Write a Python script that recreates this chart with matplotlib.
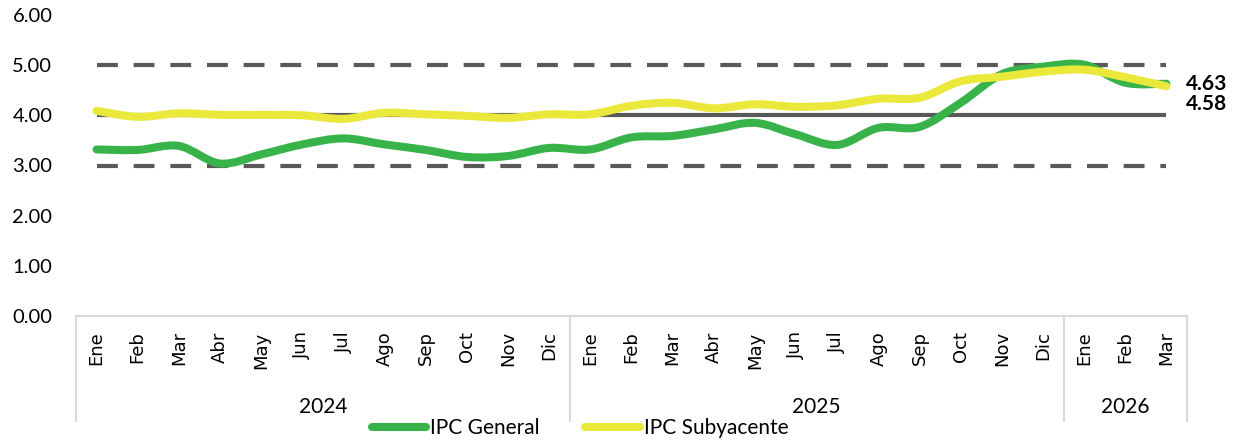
import numpy as np
import matplotlib
matplotlib.use("Agg")
from matplotlib import pyplot as plt
from matplotlib.path import Path
from matplotlib.patches import PathPatch
from matplotlib.lines import Line2D
from matplotlib import transforms

# data
months = ["Ene", "Feb", "Mar", "Abr", "May", "Jun", "Jul", "Ago", "Sep", "Oct", "Nov", "Dic",
          "Ene", "Feb", "Mar", "Abr", "May", "Jun", "Jul", "Ago", "Sep", "Oct", "Nov", "Dic",
          "Ene", "Feb", "Mar"]
years = ["2024", "2025", "2026"]
year_len = [12, 12, 3]

ipc_general = [3.32, 3.31, 3.39, 3.04, 3.22, 3.42, 3.54, 3.42, 3.31, 3.17, 3.19, 3.35,
               3.32, 3.56, 3.59, 3.72, 3.85, 3.62, 3.41, 3.75, 3.77, 4.25, 4.82, 4.97,
               5.01, 4.65, 4.63]
ipc_sub = [4.09, 3.97, 4.04, 4.01, 4.01, 4.00, 3.93, 4.05, 4.02, 3.99, 3.95, 4.02,
           4.02, 4.19, 4.25, 4.14, 4.22, 4.17, 4.20, 4.33, 4.35, 4.68, 4.77, 4.87,
           4.91, 4.76, 4.58]

target = 4.0
band = [3.0, 5.0]

green = "#37b34a"
yellow = "#ebe83c"
gray = "#595959"
box = "#d9d9d9"

fig = plt.figure(figsize=(12.34, 4.43), dpi=100)
ax = fig.add_axes([76 / 1234, 1 - 316 / 443, (1187 - 76) / 1234, (316 - 15) / 443])

x = np.arange(len(months))
ax.set_xlim(-0.5, len(months) - 0.5)
ax.set_ylim(0, 6)


def smooth_path(xs, ys):
    # catmull-rom style bezier, like excel's smoothed line
    pts = np.column_stack([xs, ys]).astype(float)
    verts = [pts[0]]
    codes = [Path.MOVETO]
    n = len(pts)
    for i in range(n - 1):
        p0 = pts[i - 1] if i > 0 else pts[i]
        p1 = pts[i]
        p2 = pts[i + 1]
        p3 = pts[i + 2] if i + 2 < n else pts[i + 1]
        c1 = p1 + (p2 - p0) / 6.0
        c2 = p2 - (p3 - p1) / 6.0
        verts += [c1, c2, p2]
        codes += [Path.CURVE4] * 3
    return Path(verts, codes)


# reference lines
ax.hlines(target, x[0], x[-1], color=gray, lw=3, zorder=2)
for b in band:
    ax.hlines(b, x[0], x[-1], color=gray, lw=3, linestyles=(0, (5.0, 3.8)), zorder=2)

for vals, col in [(ipc_general, green), (ipc_sub, yellow)]:
    patch = PathPatch(smooth_path(x, vals), facecolor="none", edgecolor=col, lw=5.8,
                      capstyle="round", joinstyle="round", zorder=3)
    ax.add_patch(patch)

# end labels
ax.annotate(f"{ipc_general[-1]:.2f}", xy=(x[-1], ipc_general[-1]), xytext=(14, 0),
            textcoords="offset points", ha="left", va="center", fontsize=15,
            fontweight="bold", family="Lato")
ax.annotate(f"{ipc_sub[-1]:.2f}", xy=(x[-1], ipc_sub[-1]), xytext=(14, -12.5),
            textcoords="offset points", ha="left", va="center", fontsize=15,
            fontweight="bold", family="Lato")

# axes styling
for s in ax.spines.values():
    s.set_visible(False)
ax.set_yticks(np.arange(0, 7, 1))
ax.set_yticklabels([f"{v:.2f}" for v in np.arange(0, 7, 1)], family="Lato", fontsize=14.5)
ax.tick_params(axis="y", length=0, pad=17)
ax.set_xticks(x)
ax.set_xticklabels(months, rotation=90, va="top", family="DejaVu Sans", fontsize=13)
ax.tick_params(axis="x", length=0, pad=11)

# category box
tr = transforms.blended_transform_factory(ax.transData, ax.transAxes)
ax.plot([-0.5, len(months) - 0.5], [0, 0], color=box, lw=1.5, transform=tr, clip_on=False)
edges = np.concatenate([[0], np.cumsum(year_len)]) - 0.5
for e in edges:
    ax.plot([e, e], [0, -0.349], color=box, lw=1.5, transform=tr, clip_on=False)
for i, yr in enumerate(years):
    mid = (edges[i] + edges[i + 1]) / 2
    ax.text(mid, -0.303, yr, transform=tr, ha="center", va="center", family="Lato", fontsize=15)

handles = [Line2D([], [], color=green, lw=5.8, solid_capstyle="round"),
           Line2D([], [], color=yellow, lw=5.8, solid_capstyle="round")]
fig.legend(handles, ["IPC General", "IPC Subyacente"], loc="center",
           bbox_to_anchor=(0.47, 0.034), ncol=2, frameon=False,
           prop={"family": "Lato", "size": 15}, handlelength=2.6, handletextpad=0.2,
           columnspacing=2.2, borderpad=0, borderaxespad=0)

fig.savefig("out.png", dpi=100)
